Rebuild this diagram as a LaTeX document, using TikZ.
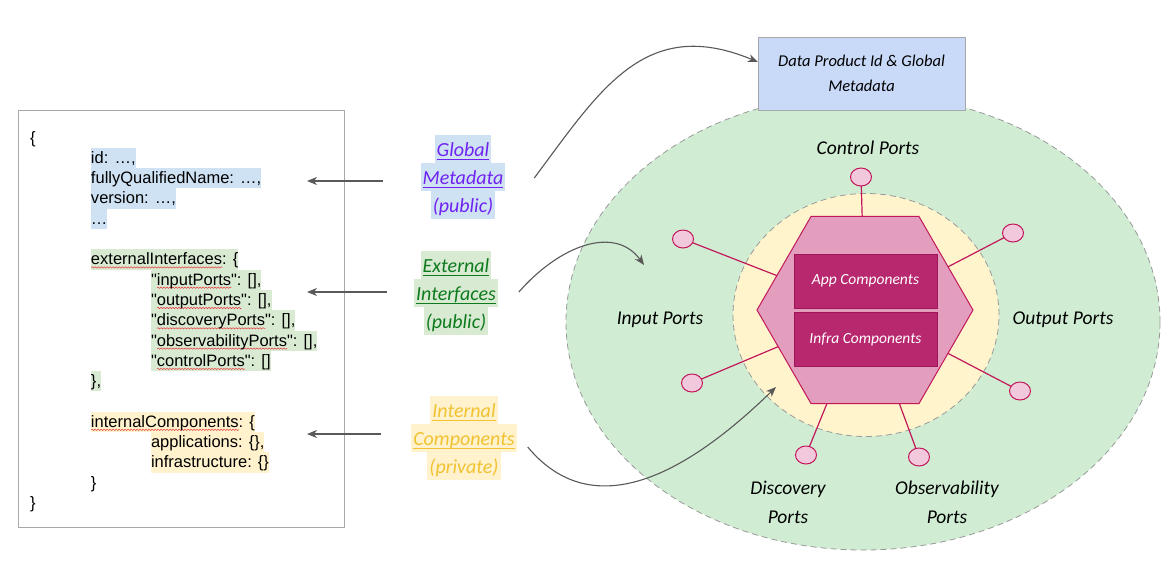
\documentclass[tikz,border=0pt]{standalone}
\usepackage{fontspec}
\newfontfamily\codefont{Liberation Sans}
\newfontfamily\hand{Carlito}
\usepackage{xcolor}
\usetikzlibrary{arrows.meta,positioning,calc,shapes.geometric,decorations.pathmorphing}
\definecolor{HlBlue}{HTML}{CFE2F3}
\definecolor{HlGreen}{HTML}{D9EAD3}
\definecolor{HlYellow}{HTML}{FFF2CC}
\definecolor{BoxGrey}{HTML}{A8A8A8}
\definecolor{ShellGrey}{HTML}{999999}
\definecolor{ShellGreen}{HTML}{D0EDD3}
\definecolor{CoreYellow}{HTML}{FFF4CC}
\definecolor{HexPink}{HTML}{E39EBD}
\definecolor{PortRed}{HTML}{C2185B}
\definecolor{PortPink}{HTML}{F2C9DC}
\definecolor{CompMagenta}{HTML}{B8286F}
\definecolor{CompEdge}{HTML}{A0155A}
\definecolor{DpBlue}{HTML}{C9DAF8}
\definecolor{LinkGrey}{HTML}{595959}
\definecolor{GmPurple}{HTML}{6F22F0}
\definecolor{ExtGreen}{HTML}{0E7A1E}
\definecolor{IntYellow}{HTML}{F1C232}
\definecolor{Squiggle}{HTML}{E8383D}
\setlength{\fboxsep}{0pt}
\newcommand{\spellwave}[1]{\setbox0\hbox{#1}\rlap{\tikz[baseline=0pt,x=1pt,y=1pt]\draw[Squiggle,line width=0.5pt,decorate,decoration={snake,amplitude=0.7pt,segment length=3pt}] (0,-2.6) -- (\the\wd0,-2.6);}\box0}
\newcommand{\tagul}[1]{\setbox0\hbox{#1}\rlap{\raisebox{-4pt}{\rule{\wd0}{1.3pt}}}\box0}
\newcommand{\cstrut}{\rule[-4.8pt]{0pt}{20.3pt}}
\newcommand{\lstrut}{\rule[-7pt]{0pt}{28pt}}
\newcommand{\hlcode}[2]{\colorbox{#1}{\cstrut#2}}
\newcommand{\hltag}[2]{\colorbox{#1}{\lstrut\kern2pt#2\kern2pt}}
\newcommand{\tabA}{\hspace*{61pt}}
\newcommand{\tabB}{\hspace*{121pt}}

\begin{document}
\begin{tikzpicture}[
  x=1pt,y=-1pt,
  every node/.style={inner sep=0pt,outer sep=0pt},
  codebox/.style={draw=BoxGrey,line width=0.8pt,minimum width=326pt,minimum height=417pt},
  codetxt/.style={align=left,font=\codefont\fontsize{16.5}{20.3}\selectfont},
  tag/.style={align=center,font=\hand\itshape\fontsize{20}{28}\selectfont},
  shell/.style={ellipse,draw=ShellGrey,dash pattern=on 6pt off 4pt,line width=0.8pt},
  hexa/.style={regular polygon,regular polygon sides=6,minimum size=216pt,draw=PortRed,fill=HexPink,line width=1pt},
  comp/.style={draw=CompEdge,fill=CompMagenta,line width=1pt,minimum width=143pt,minimum height=54pt,text=white,font=\hand\itshape\fontsize{15.5}{18}\selectfont},
  port/.style={ellipse,draw=PortRed,fill=PortPink,line width=1pt,minimum width=21pt,minimum height=18pt},
  portlink/.style={draw=PortRed,line width=1.2pt},
  portlbl/.style={align=center,font=\hand\itshape\fontsize{19.5}{29}\selectfont},
  dpbox/.style={draw=BoxGrey,fill=DpBlue,line width=1pt,minimum width=207pt,minimum height=73pt,align=center,font=\hand\itshape\fontsize{16.5}{25}\selectfont},
  link/.style={draw=LinkGrey,line width=1.1pt,-{Stealth[length=10pt,width=8pt,inset=3pt]}}
]
\fill[white] (0,0) rectangle (1175,587);
\useasboundingbox (0,0) rectangle (1175,587);

% descriptor
\node[codebox] (codebox) at (181,318.5) {};
\node[codetxt,anchor=north west] (code) at ([xshift=12pt,yshift=-17.5pt]codebox.north west) {%
\cstrut\{\\
\tabA\hlcode{HlBlue}{id: …,}\\
\tabA\hlcode{HlBlue}{fullyQualifiedName: …,}\\
\tabA\hlcode{HlBlue}{version: …,}\\
\tabA\hlcode{HlBlue}{…}\\
\cstrut\\
\tabA\hlcode{HlGreen}{\spellwave{externalInterfaces}: \{}\\
\tabB\hlcode{HlGreen}{"\spellwave{inputPorts}": [],}\\
\tabB\hlcode{HlGreen}{"\spellwave{outputPorts}": [],}\\
\tabB\hlcode{HlGreen}{"\spellwave{discoveryPorts}": [],}\\
\tabB\hlcode{HlGreen}{"\spellwave{observabilityPorts}": [],}\\
\tabB\hlcode{HlGreen}{"\spellwave{controlPorts}": []}\\
\tabA\hlcode{HlGreen}{\},}\\
\cstrut\\
\tabA\hlcode{HlYellow}{\spellwave{internalComponents}: \{}\\
\tabB\hlcode{HlYellow}{applications: \{\},}\\
\tabB\hlcode{HlYellow}{infrastructure: \{\}}\\
\tabA\cstrut\}\\
\cstrut\}};

% section tags
\node[tag,text=GmPurple] (gmtag) at (463,177) {\hltag{HlBlue}{\tagul{Global}}\\\hltag{HlBlue}{\tagul{Metadata}}\\\hltag{HlBlue}{(public)}};
\node[tag,text=ExtGreen] (exttag) at (456,293) {\hltag{HlGreen}{\tagul{External}}\\\hltag{HlGreen}{\tagul{Interfaces}}\\\hltag{HlGreen}{(public)}};
\node[tag,text=IntYellow] (inttag) at (464,438) {\hltag{HlYellow}{\tagul{Internal}}\\\hltag{HlYellow}{\tagul{Components}}\\\hltag{HlYellow}{(private)}};
\coordinate (gm-tip) at (307,181);
\coordinate (ext-tip) at (307,292);
\coordinate (int-tip) at (307,434);
\draw[link,shorten <=38pt] (gmtag.west |- gm-tip) -- (gm-tip);
\draw[link,shorten <=27pt] (exttag.west |- ext-tip) -- (ext-tip);
\draw[link,shorten <=30pt] (inttag.west |- int-tip) -- (int-tip);

% data product
\node[shell,fill=ShellGreen,minimum width=594pt,minimum height=456pt] (shell) at (863,322) {};
\node[shell,fill=CoreYellow,minimum width=266pt,minimum height=243pt] (core) at (866,315) {};
\node[hexa] (hex) at (865,310) {};
\node[comp] (app) at (865.5,281) {App Components};
\node[comp,below=4pt of app] (infra) {Infra Components};
\foreach \name/\px/\py in {ctl/861/177,inA/683/239,inB/692/383,outA/1013/233,outB/1020/391,disc/806/455,obs/919/457}{
  \node[port] (p-\name) at (\px,\py) {};
  \draw[portlink] (p-\name) -- (hex);
}
\node[portlbl] (ctl-lbl) at (868,148) {Control Ports};
\node[portlbl] (in-lbl) at (660,320) {Input Ports};
\node[portlbl] (out-lbl) at (1063,320) {Output Ports};
\node[portlbl] (disc-lbl) at (788,502) {Discovery\\Ports};
\node[portlbl] (obs-lbl) at (947,502) {Observability\\Ports};
\node[dpbox] (dp) at (861.5,73.5) {Data Product Id \& Global\\Metadata};

% mapping curves
\coordinate (ext-in) at (644,265);
\coordinate (int-in) at (776,387);
\draw[link] ($(gmtag.east)+(29,1)$) .. controls (600,90) and (645,15) .. ([yshift=11.5pt]dp.west);
\draw[link] ($(exttag.east)+(21,-1)$) .. controls (560,245) and (615,225) .. (ext-in);
\draw[link] ($(inttag.east)+(11,9)$) .. controls (580,510) and (660,500) .. (int-in);
\end{tikzpicture}
\end{document}
